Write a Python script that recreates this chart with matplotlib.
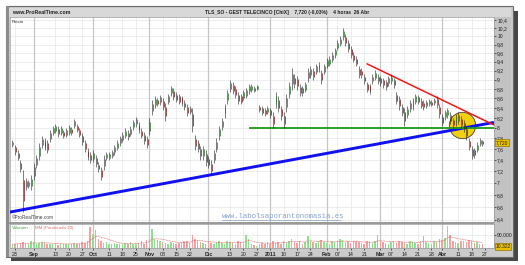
import numpy as np
import matplotlib
matplotlib.use("Agg")
import matplotlib.pyplot as plt
from matplotlib.patches import Rectangle
from matplotlib.lines import Line2D
from matplotlib.ticker import FixedLocator, NullLocator

W, H = 525, 265

# daily high / low, trading day index -1 (20 Ago 2010) .. 174 (26 Abr 2011)
hi = [7.77, 7.68, 7.58, 7.40, 7.22, 7.08, 7.05, 7.13, 7.35, 7.49, 7.72,
      7.85, 7.81, 7.77, 7.96, 8.04, 8.08, 8.04, 8.04, 7.96, 8.00,
      8.06, 8.02, 8.18, 8.08, 8.00, 7.90, 7.77, 7.62, 7.55, 7.58,
      7.49, 7.36, 7.28, 7.49, 7.55, 7.55, 7.58, 7.68, 7.77, 7.85,
      7.92, 8.00, 7.96, 8.04, 8.16, 8.22, 8.12, 8.00, 7.92, 7.85,
      8.20, 8.56, 8.65, 8.60, 8.67, 8.60, 8.50, 8.69, 8.86, 8.82,
      8.73, 8.69, 8.65, 8.56, 8.48, 8.44, 8.40, 7.86, 7.77, 7.66,
      7.66, 7.58, 7.47, 7.40, 7.58, 7.80, 8.04, 8.20, 8.48, 8.78,
      8.99, 8.95, 8.86, 8.73, 8.69, 8.78, 8.82, 8.91, 8.91, 8.86,
      8.88, 8.46, 8.44, 8.40, 8.44, 8.40, 8.32, 8.73, 8.65, 8.44,
      8.32, 8.69, 8.95, 9.25, 9.12, 9.08, 8.91, 8.86, 8.95, 9.25,
      9.30, 9.25, 9.35, 9.39, 9.21, 9.35, 9.49, 9.53, 9.62, 9.72,
      9.90, 10.00, 10.20, 10.05, 9.90, 9.76, 9.62, 9.53, 9.30, 9.25,
      9.12, 8.95, 8.91, 9.12, 9.21, 9.12, 9.08, 9.04, 8.99, 9.08,
      9.12, 9.04, 8.73, 8.65, 8.48, 8.40, 8.44, 8.56, 8.60, 8.69,
      8.67, 8.60, 8.56, 8.56, 8.58, 8.56, 8.60, 8.65, 8.48, 8.28,
      8.36, 8.40, 8.32, 8.20, 8.28, 8.32, 8.24, 8.16, 8.04, 7.80,
      7.66, 7.62, 7.73, 7.80, 7.77]
lo = [7.64, 7.50, 7.40, 7.19, 6.52, 6.88, 6.91, 6.88, 7.05, 7.25, 7.40,
      7.62, 7.58, 7.53, 7.73, 7.86, 7.90, 7.82, 7.86, 7.80, 7.82,
      7.86, 7.86, 8.00, 7.92, 7.82, 7.67, 7.54, 7.40, 7.35, 7.36,
      7.28, 7.19, 7.05, 7.22, 7.40, 7.40, 7.44, 7.49, 7.58, 7.66,
      7.73, 7.80, 7.77, 7.84, 7.96, 8.02, 7.90, 7.80, 7.70, 7.62,
      7.86, 8.26, 8.40, 8.44, 8.46, 8.36, 8.14, 8.48, 8.65, 8.56,
      8.52, 8.48, 8.44, 8.36, 8.24, 8.28, 7.92, 7.58, 7.54, 7.40,
      7.40, 7.30, 7.25, 7.13, 7.35, 7.54, 7.77, 7.96, 8.20, 8.48,
      8.73, 8.69, 8.60, 8.48, 8.48, 8.56, 8.60, 8.69, 8.73, 8.73,
      8.78, 8.32, 8.26, 8.24, 8.28, 8.20, 8.00, 8.40, 8.32, 8.16,
      8.00, 8.32, 8.60, 8.78, 8.82, 8.78, 8.65, 8.65, 8.73, 8.95,
      9.04, 8.99, 9.12, 9.17, 8.91, 9.12, 9.25, 9.30, 9.39, 9.49,
      9.67, 9.76, 9.90, 9.76, 9.62, 9.49, 9.39, 9.30, 9.04, 9.04,
      8.91, 8.73, 8.69, 8.91, 8.99, 8.91, 8.86, 8.82, 8.78, 8.86,
      8.91, 8.82, 8.48, 8.36, 8.24, 8.04, 8.20, 8.32, 8.36, 8.48,
      8.48, 8.40, 8.36, 8.40, 8.44, 8.44, 8.46, 8.40, 8.20, 8.04,
      8.16, 8.20, 8.08, 8.00, 8.04, 8.08, 8.00, 7.92, 7.77, 7.58,
      7.42, 7.44, 7.54, 7.66, 7.66]
vol = [25, 30, 28, 35, 40, 30, 25, 45, 38, 30, 35,
       40, 35, 30, 25, 30, 28, 22, 30, 25, 28,
       30, 25, 35, 28, 30, 40, 35, 45, 140, 95,
       120, 60, 45, 35, 40, 30, 28, 35, 30, 25,
       30, 35, 28, 40, 30, 25, 35, 45, 30, 55,
       70, 125, 60, 55, 45, 40, 35, 30, 40, 35,
       30, 35, 40, 45, 50, 35, 85, 60, 45, 40,
       35, 30, 40, 35, 30, 40, 45, 35, 30, 50,
       40, 35, 30, 45, 40, 35, 90, 60, 30, 20,
       15, 30, 35, 25, 40, 30, 45, 35, 40, 30,
       45, 35, 50, 60, 40, 35, 45, 30, 40, 80,
       50, 40, 35, 45, 55, 40, 35, 30, 45, 40,
       50, 60, 55, 40, 45, 35, 50, 45, 40, 35,
       30, 45, 40, 35, 50, 85, 45, 40, 35, 30,
       40, 45, 35, 50, 40, 35, 30, 45, 40, 35,
       30, 45, 80, 40, 35, 30, 45, 40, 60, 55,
       70, 150, 90, 45, 40, 35, 50, 45, 40, 55,
       45, 35, 40, 30, 25]
idx = np.arange(-1, 175)

tick_pos = [0, 7, 15, 20, 25, 29, 35, 40, 45, 50, 55, 60, 65, 72, 80, 85, 90,
            95, 100, 105, 110, 116, 120, 125, 130, 136, 140, 145, 150, 155,
            159, 165, 170, 175]
tick_lab = ["23", "Sep", "13", "20", "27", "Oct", "11", "18", "25", "Nov",
            "08", "15", "22", "Dic", "13", "20", "27", "2011", "10", "17",
            "24", "Feb", "07", "14", "21", "Mar", "07", "14", "21", "28",
            "Abr", "11", "18", "27"]
month_lab = {"Sep", "Oct", "Nov", "Dic", "2011", "Feb", "Mar", "Abr"}

# trend lines (index, price)
blue_x, blue_y = [-1.97, 178.3], [6.52, 8.11]
red_x, red_y = [131.1, 178.3], [9.35, 8.06]
green_x, green_y = [87.5, 178.3], [8.0, 8.0]
circle_x, circle_y = 166.3, 8.05
last_price, last_vol = 7.72, 10322


def fb(x0, y0, x1, y1):
    return [x0 / W, 1 - y1 / H, (x1 - x0) / W, (y1 - y0) / H]


def rect(fig, x0, y0, x1, y1, fc, ec="none", lw=0, z=-10):
    fig.patches.append(Rectangle((x0 / W, 1 - y1 / H), (x1 - x0) / W,
                                 (y1 - y0) / H, transform=fig.transFigure,
                                 facecolor=fc, edgecolor=ec, linewidth=lw,
                                 zorder=z))


plt.rcParams["font.family"] = ["Liberation Sans", "DejaVu Sans"]
fig = plt.figure(figsize=(W / 100, H / 100), dpi=100)
fig.patch.set_facecolor("white")

rect(fig, 11, 11, 518, 261, "#474747")
rect(fig, 6, 6, 513, 257, "#cbcbcb", "#6a6a6a", 0.8)
rect(fig, 6, 6, 9, 257, "#8c8c8c")
rect(fig, 9, 8, 511, 17, "#d8d8d8")
rect(fig, 494, 17, 511, 248, "#c2c2c2")
rect(fig, 9, 222, 494, 224, "#9a9a9a")

fig.text(12 / W, 1 - 12.5 / H, "www.ProRealTime.com", fontsize=3.8,
         fontweight="bold", va="center", color="#202020")
fig.text(205 / W, 1 - 12.5 / H,
         "TLS_SO - GEST TELECINCO [ChiX]    7,720 (-0,03%)    4 horas  26 Abr",
         fontsize=3.6, fontweight="bold", va="center", color="#202020")

# price pane
ax = fig.add_axes(fb(10, 17, 494, 222))
ax.set_yscale("log")
ax.set_xlim(-1.86, 178.33)
ax.set_ylim(6.365, 10.48)
yt = np.round(np.arange(6.4, 10.41, 0.2), 1)
ax.yaxis.set_major_locator(FixedLocator(yt))
ax.yaxis.set_minor_locator(NullLocator())
ax.set_yticklabels([("%d" % v) if abs(v - round(v)) < 1e-6
                    else ("%.1f" % v).replace(".", ",") for v in yt])
for t, v in zip(ax.get_yticklabels(), yt):
    if abs(v - round(v)) < 1e-6:
        t.set_fontweight("bold")
ax.yaxis.tick_right()
ax.tick_params(axis="y", labelsize=3.6, length=1.5, width=0.5, pad=0.8,
               colors="#202020")
ax.set_xticks([])
for s in ax.spines.values():
    s.set_color("#9a9a9a")
    s.set_linewidth(0.5)
for v in yt:
    ax.axhline(v, color="#e6e6e6", lw=0.5, zorder=0)
for p, l in zip(tick_pos, tick_lab):
    if l in month_lab:
        ax.axvline(p, color="#c6c6c6", lw=0.9, zorder=0)
    else:
        ax.axvline(p, color="#e6e6e6", lw=0.5, zorder=0)

ax.scatter([circle_x], [circle_y], s=360, color="#f2cf10",
           edgecolor="#404040", linewidth=0.6, zorder=2)
ax.plot(blue_x, blue_y, color="#1010f0", lw=2.1, zorder=3,
        solid_capstyle="butt")
ax.plot(green_x, green_y, color="#1a9a1a", lw=1.3, zorder=3)
ax.plot(red_x, red_y, color="#f01818", lw=1.1, zorder=3)

hi_a, lo_a = np.array(hi), np.array(lo)
mid = (hi_a + lo_a) / 2
up = np.r_[True, mid[1:] >= mid[:-1]]
for i, h, l, u in zip(idx, hi_a, lo_a, up):
    ax.vlines(i, l, h, color="#1b1b1b", lw=0.4, zorder=4)
    ax.vlines(i + 0.35, l + (h - l) * 0.25, h - (h - l) * 0.25,
              color="#2f7a2f" if u else "#7a2222", lw=0.55, zorder=5)

ax.text(0.004, 0.985, "Precio", transform=ax.transAxes, fontsize=3.2,
        va="top", ha="left", color="#303030")
ax.text(0.004, 0.008, "\u00a9ProRealTime.com", transform=ax.transAxes,
        fontsize=3.4, va="bottom", ha="left", color="#404040")
fig.text(222 / W, 1 - 216.5 / H, "www.labolsaporantonomasia.es",
         family="Liberation Mono", fontsize=5.3, color="#86a2c8",
         va="center", ha="left")
fig.add_artist(Line2D([222 / W, 340 / W], [1 - 220 / H, 1 - 220 / H],
                      color="#86a2c8", lw=0.5))

ax.text(1.003, last_price, "7,720", transform=ax.get_yaxis_transform(),
        fontsize=3.6, va="center", ha="left", color="#202020",
        bbox=dict(boxstyle="square,pad=0.15", fc="#e8c000", ec="#806000",
                  lw=0.4))

# volume pane
vx = fig.add_axes(fb(10, 224, 494, 248))
vx.set_xlim(-1.86, 178.33)
vx.set_ylim(0, 162000)
vol_a = np.array(vol) * 1000.0
vx.bar(idx, vol_a, width=0.55, color=np.where(up, "#8fe08f", "#f2a0a0"),
       zorder=2)
wts = np.arange(1, 11)
wma = np.array([np.dot(vol_a[max(0, k - 9):k + 1],
                       wts[10 - len(vol_a[max(0, k - 9):k + 1]):])
                / wts[10 - len(vol_a[max(0, k - 9):k + 1]):].sum()
                for k in range(len(vol_a))])
vx.plot(idx, wma, color="#e06a6a", lw=0.5, ls=(0, (1.5, 0.8)), zorder=3)
vx.yaxis.tick_right()
vx.set_yticks([90000])
vx.set_yticklabels(["90.000"])
vx.tick_params(axis="y", labelsize=3.6, length=1.5, width=0.5, pad=0.8,
               colors="#202020")
vx.axhline(90000, color="#e6e6e6", lw=0.5, zorder=0)
for p, l in zip(tick_pos, tick_lab):
    if l in month_lab:
        vx.axvline(p, color="#c6c6c6", lw=0.9, zorder=0)
    else:
        vx.axvline(p, color="#e6e6e6", lw=0.5, zorder=0)
vx.set_xticks(tick_pos)
vx.set_xticklabels(tick_lab)
for t, l in zip(vx.get_xticklabels(), tick_lab):
    if l in month_lab:
        t.set_fontweight("bold")
vx.tick_params(axis="x", labelsize=3.8, length=1.5, width=0.5, pad=1.2,
               colors="#202020")
for s in vx.spines.values():
    s.set_color("#9a9a9a")
    s.set_linewidth(0.5)
vx.text(0.004, 0.93, "Volumen", transform=vx.transAxes, fontsize=3.2,
        va="top", ha="left", color="#3aa03a")
vx.text(0.052, 0.93, "MM (Ponderada 10)", transform=vx.transAxes,
        fontsize=3.2, va="top", ha="left", color="#e07070")
vx.text(1.003, last_vol, "10.322", transform=vx.get_yaxis_transform(),
        fontsize=3.6, va="center", ha="left", color="#202020",
        bbox=dict(boxstyle="square,pad=0.15", fc="#e8c000", ec="#806000",
                  lw=0.4))

fig.savefig("out.png", dpi=100)
